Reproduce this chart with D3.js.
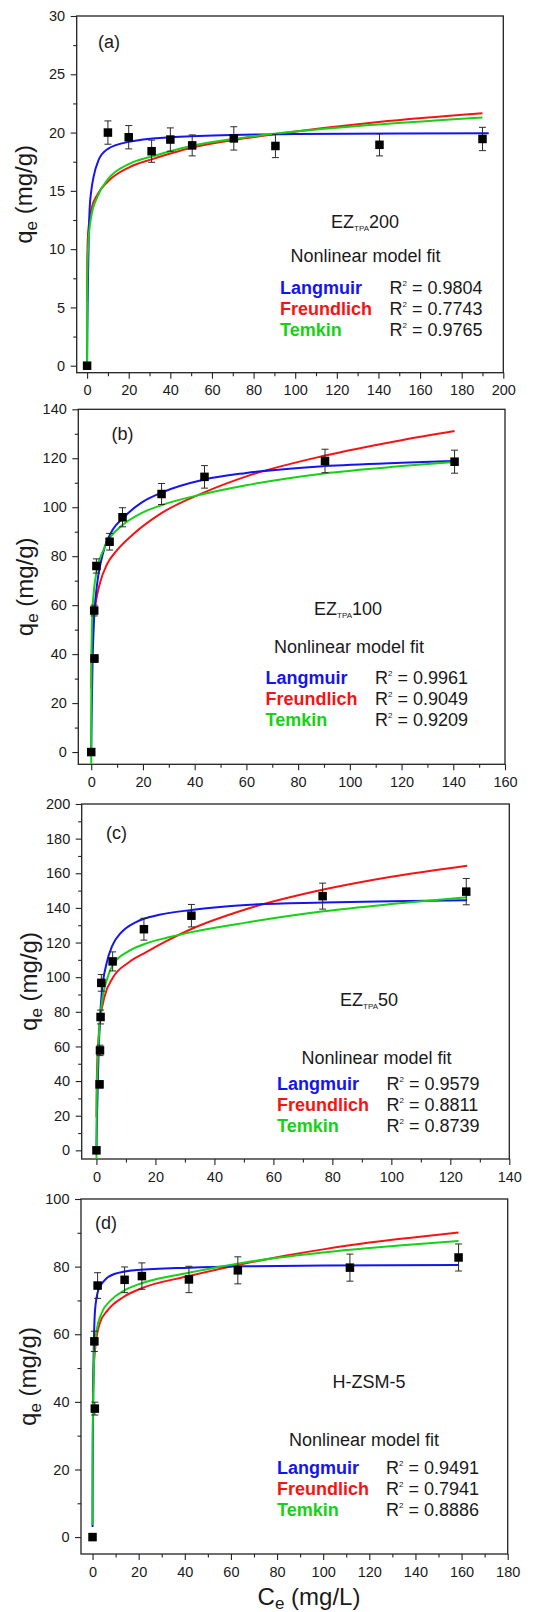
<!DOCTYPE html>
<html>
<head>
<meta charset="utf-8">
<script src="https://cdn.jsdelivr.net/npm/d3@7/dist/d3.min.js"></script>
<style>
body { margin: 0; background: #fff; }
svg text { font-family: "Liberation Sans", Arial, sans-serif; fill: #1a1a1a; }
</style>
</head>
<body>
<div id="chart"></div>
<script>
// ---------- values ----------
var modelNames = ["Langmuir", "Freundlich", "Temkin"];
var panelLetters = ["(a)", "(b)", "(c)", "(d)"];
var sampleBase = ["EZ", "EZ", "EZ", "H-ZSM-5"];
var sampleSub = ["TPA", "TPA", "TPA", ""];
var sampleTail = ["200", "100", "50", ""];

// (a) EZTPA200
var aCe = [0, 10, 20, 31, 40, 50.5, 70.5, 90.5, 140.5, 190];
var aQe = [0, 20.0, 19.6, 18.4, 19.4, 18.9, 19.5, 18.85, 18.95, 19.45];
var aErr = [0, 1.0, 1.0, 0.95, 1.0, 0.9, 1.0, 1.0, 0.95, 1.0];
var aLangmuir = [[0,0.5],[0.1,2.8],[0.3,6.0],[0.6,9.3],[1.2,13.4],[2,15.0],[3.1,16.2],[5.4,17.6],[10,18.6],[20,19.2],[40,19.6],[70,19.8],[100,19.87],[150,19.93],[193,19.95]];
var aFreundlich = [[0.01,5.5],[0.05,8.3],[0.2,10.2],[0.5,11.4],[1,12.3],[2,13.4],[5,14.7],[10,15.8],[20,17.0],[31,17.7],[40,18.2],[50,18.7],[70,19.35],[90,19.85],[140,20.9],[190,21.65]];
var aTemkin = [[0.002,0],[0.01,3.0],[0.05,6.0],[0.2,8.5],[0.5,10.2],[1,11.5],[2,12.8],[5,14.5],[10,16.0],[20,17.3],[31,17.95],[40,18.4],[50,18.85],[70,19.45],[90,19.9],[140,20.7],[190,21.3]];
var aR2 = ["0.9804", "0.7743", "0.9765"];
var aXTicks = [0, 20, 40, 60, 80, 100, 120, 140, 160, 180, 200];
var aYTicks = [0, 5, 10, 15, 20, 25, 30];

// (b) EZTPA100
var bCe = [0, 1.25, 1.15, 2.0, 7.1, 12.1, 27.2, 43.8, 90.4, 140.5];
var bQe = [0, 38.2, 57.8, 76.0, 85.9, 95.9, 105.4, 112.4, 118.9, 118.6];
var bErr = [0, 1.5, 2.2, 2.9, 3.4, 3.9, 4.3, 4.6, 4.8, 4.7];
var bLangmuir = [[0,0],[0.1,10],[0.25,20],[0.5,36],[1,52],[2.2,68],[3.5,76.5],[5.3,84],[8.4,91],[12.2,95.5],[19.6,102],[27.3,106],[43.8,111.3],[60,114],[90,116.8],[120,118.2],[141,118.9]];
var bFreundlich = [[0.02,26],[0.1,35],[0.3,44],[0.75,52],[1.6,60],[3.5,69.5],[6,76.5],[10,82.5],[16,88.8],[27,97.5],[44,106.2],[60,112.6],[90,121],[120,127.4],[140.5,131.1]];
var bTemkin = [[0.0017,-5],[0.005,6],[0.02,23],[0.1,41],[0.4,56],[1,65.5],[2.2,74.5],[4.7,82.5],[7.2,87.5],[12.2,92.8],[19.6,97.7],[27.3,100.9],[43.8,105.5],[60,109],[90,113.8],[120,116.8],[140.5,118.5]];
var bR2 = ["0.9961", "0.9049", "0.9209"];
var bXTicks = [0, 20, 40, 60, 80, 100, 120, 140, 160];
var bYTicks = [0, 20, 40, 60, 80, 100, 120, 140];

// (c) EZTPA50
var cCe = [0, 1.05, 1.2, 1.4, 1.65, 5.5, 16.1, 32.2, 76.7, 125.4];
var cQe = [0, 38.1, 57.7, 77.0, 96.7, 109.1, 127.7, 135.5, 146.8, 149.4];
var cErr = [0, 2.0, 3.0, 4.0, 4.8, 5.5, 6.3, 6.5, 7.5, 7.6];
var cLangmuir = [[0,0],[0.2,20],[0.55,45.6],[1.1,72.5],[1.85,91.7],[3.3,107],[5.5,118.7],[8.2,125.4],[13.6,132],[21.3,136],[32.2,138.8],[50.7,141.7],[77,143.1],[100,143.9],[125.7,144.4]];
var cFreundlich = [[0.01,19],[0.1,38],[0.3,52],[0.55,61],[1.4,77],[2.7,88.5],[5.5,99.5],[10.9,108.5],[16.9,114.5],[24.5,121.5],[32.2,127.8],[50.7,139.2],[77,150.6],[100,158],[125.7,164.4]];
var cTemkin = [[0.003,-5],[0.01,5],[0.05,20],[0.2,38],[0.4,50],[0.76,64],[1.6,82],[3.8,100],[5.5,107],[10.9,115],[16.9,119.5],[24.5,123],[32.2,126],[50.7,131.5],[77,138],[100,142.2],[125.7,146.2]];
var cR2 = ["0.9579", "0.8811", "0.8739"];
var cXTicks = [0, 20, 40, 60, 80, 100, 120, 140];
var cYTicks = [0, 20, 40, 60, 80, 100, 120, 140, 160, 180, 200];

// (d) H-ZSM-5
var dCe = [0, 1.0, 0.8, 2.2, 13.9, 21.4, 41.8, 63, 111.6, 158.7];
var dQe = [0, 38.0, 57.9, 74.4, 76.1, 77.2, 76.2, 78.9, 79.7, 82.7];
var dErr = [0, 1.9, 3.0, 3.8, 3.8, 3.9, 3.9, 4.0, 4.0, 4.0];
var dLangmuir = [[0.01,3],[0.05,14],[0.15,30],[0.4,50.4],[1.1,67.2],[2.5,73.1],[5.3,76],[9.4,77.8],[19.2,79],[41.8,79.7],[66,80.1],[100,80.3],[158.7,80.5]];
var dFreundlich = [[0.15,43],[0.55,50.4],[1.4,57.3],[3.2,63.3],[6.7,67.2],[13.6,71.1],[21.3,73.6],[41.8,77.2],[66,80.9],[80,82.8],[100,85.1],[120,87.1],[140,88.7],[158.7,90.1]];
var dTemkin = [[0.001,3.6],[0.01,22],[0.05,30],[0.3,41],[0.8,55.4],[1.8,61.3],[3.9,66.2],[8,70.1],[13.6,72.9],[21.3,75.1],[41.8,78.2],[66,81.2],[80,82.6],[100,84.2],[120,85.5],[140,86.6],[158.7,87.6]];
var dR2 = ["0.9491", "0.7941", "0.8886"];
var dXTicks = [0, 20, 40, 60, 80, 100, 120, 140, 160, 180];
var dYTicks = [0, 20, 40, 60, 80, 100];

// ---------- styles / layout ----------
var modelColors = ["#1414f0", "#f51414", "#14d214"];
var drawOrder = [1, 0, 2]; // red under, then blue, green on top

var layouts = [
    {left: 76.7, right: 503.3, top: 16, bottom: 372.7, xDomain: [-5, 200], yDomain: [-0.6, 30],
     letter: [98, 48], sample: [365, 228], note: [290.5, 262], model: [280, 294], r2: [389.5, 294]},
    {left: 78.3, right: 505, top: 409.3, bottom: 764.3, xDomain: [-5, 160], yDomain: [-5, 140],
     letter: [111.5, 440], sample: [348, 615], note: [274, 653], model: [265.5, 683.5], r2: [375, 683.5]},
    {left: 81.7, right: 509.3, top: 804, bottom: 1159, xDomain: [-5, 140], yDomain: [-5, 200],
     letter: [106, 838.5], sample: [369, 1005.5], note: [301.5, 1064], model: [277, 1090], r2: [386.5, 1090]},
    {left: 81, right: 507.7, top: 1199, bottom: 1554, xDomain: [-5, 180], yDomain: [-5, 100],
     letter: [95, 1228.5], sample: [369, 1387.5], note: [289, 1446], model: [277, 1473.5], r2: [386, 1473.5]}
];

var panelData = [
    {ce: aCe, qe: aQe, err: aErr, fits: [aLangmuir, aFreundlich, aTemkin], r2: aR2, xTicks: aXTicks, yTicks: aYTicks},
    {ce: bCe, qe: bQe, err: bErr, fits: [bLangmuir, bFreundlich, bTemkin], r2: bR2, xTicks: bXTicks, yTicks: bYTicks},
    {ce: cCe, qe: cQe, err: cErr, fits: [cLangmuir, cFreundlich, cTemkin], r2: cR2, xTicks: cXTicks, yTicks: cYTicks},
    {ce: dCe, qe: dQe, err: dErr, fits: [dLangmuir, dFreundlich, dTemkin], r2: dR2, xTicks: dXTicks, yTicks: dYTicks}
];

/**
 * One isotherm panel: frame, axes, error bars, points, fitted curves and the legend text
 */
function IsothermPanel(svg, index){
    var self = this;
    self.svg = svg;
    self.index = index;
    self.layout = layouts[index];
    self.data = panelData[index];
    self.init();
}

IsothermPanel.prototype.init = function(){
    var self = this;
    var L = self.layout;
    self.x = d3.scaleLinear().domain(L.xDomain).range([L.left, L.right]);
    self.y = d3.scaleLinear().domain(L.yDomain).range([L.bottom, L.top]);
    self.g = self.svg.append("g").attr("class", "panel");

    self.g.append("clipPath").attr("id", "clip" + self.index)
        .append("rect")
        .attr("x", L.left).attr("y", L.top)
        .attr("width", L.right - L.left).attr("height", L.bottom - L.top);
};

// midpoints between majors, used for the small ticks
IsothermPanel.prototype.minors = function(majors){
    var out = [];
    for (var i = 0; i < majors.length - 1; i++) out.push((majors[i] + majors[i + 1]) / 2);
    return out;
};

IsothermPanel.prototype.drawAxes = function(){
    var self = this;
    var L = self.layout;

    var xAxis = self.g.append("g").attr("transform", "translate(0," + L.bottom + ")")
        .call(d3.axisBottom(self.x).tickValues(self.data.xTicks).tickSize(6).tickPadding(6.5).tickFormat(d3.format("d")));
    var xMinor = self.g.append("g").attr("transform", "translate(0," + L.bottom + ")")
        .call(d3.axisBottom(self.x).tickValues(self.minors(self.data.xTicks)).tickSize(3.5).tickFormat(""));
    var yAxis = self.g.append("g").attr("transform", "translate(" + L.left + ",0)")
        .call(d3.axisLeft(self.y).tickValues(self.data.yTicks).tickSize(6).tickPadding(5.5).tickFormat(d3.format("d")));
    var yMinor = self.g.append("g").attr("transform", "translate(" + L.left + ",0)")
        .call(d3.axisLeft(self.y).tickValues(self.minors(self.data.yTicks)).tickSize(3.5).tickFormat(""));

    [xAxis, xMinor, yAxis, yMinor].forEach(function(a){
        a.select(".domain").remove();
        a.selectAll("line").attr("stroke", "#222").attr("stroke-width", 1.1);
        a.selectAll("text").style("font-size", "14.5px").attr("fill", "#1a1a1a");
    });

    self.g.append("rect")
        .attr("x", L.left).attr("y", L.top)
        .attr("width", L.right - L.left).attr("height", L.bottom - L.top)
        .attr("fill", "none").attr("stroke", "#222").attr("stroke-width", 1.3);

    // y title, q_e (mg/g)
    var yt = self.g.append("text")
        .attr("transform", "translate(" + (L.left - 45) + "," + ((L.top + L.bottom) / 2) + ") rotate(-90)")
        .attr("text-anchor", "middle")
        .style("font-size", "24px");
    yt.append("tspan").text("q");
    yt.append("tspan").text("e").style("font-size", "17px").attr("dy", 5);
    yt.append("tspan").text(" (mg/g)").attr("dy", -5);
};

IsothermPanel.prototype.drawFits = function(){
    var self = this;
    var line = d3.line()
        .x(function(d){ return self.x(d[0]); })
        .y(function(d){ return self.y(d[1]); })
        .curve(d3.curveMonotoneX);

    var fitG = self.g.append("g").attr("clip-path", "url(#clip" + self.index + ")");
    drawOrder.forEach(function(m){
        fitG.append("path")
            .datum(self.data.fits[m])
            .attr("d", line)
            .attr("fill", "none")
            .attr("stroke", modelColors[m])
            .attr("stroke-width", 2);
    });
};

IsothermPanel.prototype.drawPoints = function(){
    var self = this;
    var pts = self.data.ce.map(function(c, i){
        return {ce: c, qe: self.data.qe[i], err: self.data.err[i]};
    });
    var withErr = pts.filter(function(p){ return p.err > 0; });

    var eg = self.g.append("g").attr("stroke", "#2a2a2a").attr("stroke-width", 1);
    eg.selectAll("line.bar").data(withErr).enter().append("line")
        .attr("class", "bar")
        .attr("x1", function(d){ return self.x(d.ce); })
        .attr("x2", function(d){ return self.x(d.ce); })
        .attr("y1", function(d){ return self.y(d.qe - d.err); })
        .attr("y2", function(d){ return self.y(d.qe + d.err); });
    [1, -1].forEach(function(s){
        eg.selectAll("line.cap" + (s > 0 ? "t" : "b")).data(withErr).enter().append("line")
            .attr("class", "cap" + (s > 0 ? "t" : "b"))
            .attr("x1", function(d){ return self.x(d.ce) - 3.5; })
            .attr("x2", function(d){ return self.x(d.ce) + 3.5; })
            .attr("y1", function(d){ return self.y(d.qe + s * d.err); })
            .attr("y2", function(d){ return self.y(d.qe + s * d.err); });
    });

    var sz = 8.5;
    self.g.append("g").selectAll("rect").data(pts).enter().append("rect")
        .attr("x", function(d){ return self.x(d.ce) - sz / 2; })
        .attr("y", function(d){ return self.y(d.qe) - sz / 2; })
        .attr("width", sz).attr("height", sz)
        .attr("fill", "#000");
};

IsothermPanel.prototype.drawLabels = function(){
    var self = this;
    var L = self.layout;
    var i = self.index;

    self.g.append("text").attr("x", L.letter[0]).attr("y", L.letter[1])
        .style("font-size", "18px").text(panelLetters[i]);

    var st = self.g.append("text").attr("x", L.sample[0]).attr("y", L.sample[1])
        .attr("text-anchor", "middle").style("font-size", "18px");
    st.append("tspan").text(sampleBase[i]);
    if (sampleSub[i] != "") {
        st.append("tspan").text(sampleSub[i]).style("font-size", "8px").attr("dy", 3);
        st.append("tspan").text(sampleTail[i]).attr("dy", -3);
    }

    self.g.append("text").attr("x", L.note[0]).attr("y", L.note[1])
        .style("font-size", "18px").text("Nonlinear model fit");

    modelNames.forEach(function(name, m){
        var yy = L.model[1] + m * 21;
        self.g.append("text").attr("x", L.model[0]).attr("y", yy)
            .style("font-size", "18px").style("font-weight", "bold")
            .style("fill", modelColors[m])
            .text(name);
        var r = self.g.append("text").attr("x", L.r2[0]).attr("y", yy).style("font-size", "18px");
        r.append("tspan").text("R");
        r.append("tspan").text("2").style("font-size", "8px").attr("dy", -8);
        r.append("tspan").text(" = " + self.data.r2[m]).attr("dy", 8);
    });
};

var svg = d3.select("#chart").append("svg")
    .attr("width", 541)
    .attr("height", 1612);

var panels = [0, 1, 2, 3].map(function(i){
    var p = new IsothermPanel(svg, i);
    p.drawAxes();
    p.drawFits();
    p.drawPoints();
    p.drawLabels();
    return p;
});

// x title only under the last panel
var xt = svg.append("text").attr("x", 309).attr("y", 1605)
    .attr("text-anchor", "middle").style("font-size", "24px");
xt.append("tspan").text("C");
xt.append("tspan").text("e").style("font-size", "17px").attr("dy", 4);
xt.append("tspan").text(" (mg/L)").attr("dy", -4);
</script>
</body>
</html>
